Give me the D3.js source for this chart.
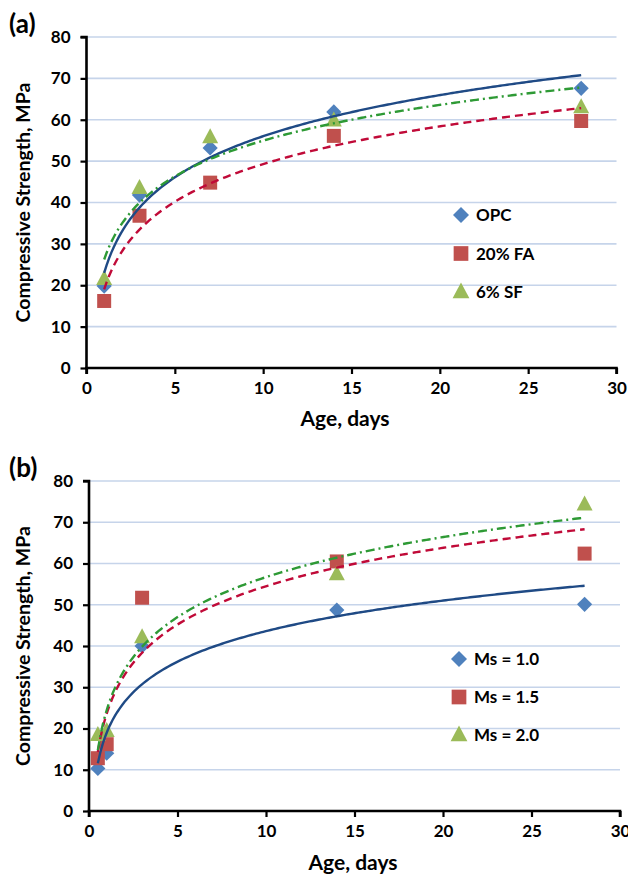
<!DOCTYPE html>
<html>
<head>
<meta charset="utf-8">
<script src="https://cdn.jsdelivr.net/npm/d3@7"></script>
<style>
  body { margin: 0; background: #fff; }
  svg { display: block; font-family: Lato, "Open Sans", sans-serif; font-weight: bold; }
</style>
</head>
<body>
<svg id="canvas" width="628" height="876"></svg>
<script>
// panel (a): cement type
var agesA = [1, 3, 7, 14, 28];
var namesA = ["OPC", "20% FA", "6% SF"];
var opc = [19.8, 41.8, 53.2, 61.9, 67.6];
var fa20 = [16.2, 36.8, 44.8, 56.1, 59.7];
var sf6 = [21.5, 43.5, 55.8, 59.8, 63.0];

// panel (b): silica modulus
var agesB = [0.5, 1, 3, 14, 28];
var namesB = ["Ms = 1.0", "Ms = 1.5", "Ms = 2.0"];
var ms10 = [10.3, 14.0, 40.0, 48.7, 50.1];
var ms15 = [12.8, 16.2, 51.7, 60.5, 62.4];
var ms20 = [18.4, 19.4, 42.1, 57.4, 74.3];

var xTicks = [0, 5, 10, 15, 20, 25, 30];
var yTicks = [0, 10, 20, 30, 40, 50, 60, 70, 80];

var markerColors = ["#4f81bd", "#c0504d", "#9bbb59"];
var lineColors = ["#1f4a85", "#c00a38", "#2e9a35"];
var lineDash = [null, "8,5", "9,4,2,4"];

const svg = d3.select('svg#canvas');

// excel style markers: diamond, square, triangle
function markerPath(i, k) {
	k = k || 1;
	if (i == 0) {
		const r = 7.6 * k;
		return 'M0,' + (-r) + 'L' + r + ',0L0,' + r + 'L' + (-r) + ',0Z';
	}
	if (i == 1) {
		const h = 7 * k;
		return 'M' + (-h) + ',' + (-h) + 'H' + h + 'V' + h + 'H' + (-h) + 'Z';
	}
	const w = 8 * k, t = 9 * k, b = 6 * k;
	return 'M0,' + (-t) + 'L' + w + ',' + b + 'H' + (-w) + 'Z';
}

// logarithmic trendline, y = a + b ln(x), least squares like Excel
function logFit(xs, ys) {
	const lx = xs.map(Math.log),
		mx = d3.mean(lx),
		my = d3.mean(ys);
	let sxy = 0, sxx = 0;
	for (let i = 0; i < xs.length; i++) {
		sxy += (lx[i] - mx) * (ys[i] - my);
		sxx += (lx[i] - mx) * (lx[i] - mx);
	}
	const b = sxy / sxx;
	return {a: my - b * mx, b: b};
}

function drawPanel(p) {
	const g = svg.append('g');
	const x = d3.scaleLinear().domain([0, 30]).range([p.left, p.right]);
	const y = d3.scaleLinear().domain([0, 80]).range([p.bottom, p.top]);

	// gridlines
	g.selectAll('line.grid').data(yTicks.slice(1)).enter().append('line')
		.attr('x1', p.left).attr('x2', p.right)
		.attr('y1', d => y(d)).attr('y2', d => y(d))
		.attr('stroke', '#c6d4ea').attr('stroke-width', 1.6);

	// axes
	const xAxis = g.append('g').attr('transform', 'translate(0,' + p.bottom + ')')
		.call(d3.axisBottom(x).tickValues(xTicks).tickSize(6).tickPadding(8));
	const yAxis = g.append('g').attr('transform', 'translate(' + p.left + ',0)')
		.call(d3.axisLeft(y).tickValues(yTicks).tickSize(6).tickPadding(10));
	[xAxis, yAxis].forEach(a => {
		a.select('.domain').attr('stroke', '#000').attr('stroke-width', 2.6);
		a.selectAll('.tick line').attr('stroke', '#000').attr('stroke-width', 2.2);
		a.selectAll('.tick text').attr('fill', '#000')
			.style('font-size', '17px').style('font-family', 'Lato, sans-serif').style('font-weight', 'bold');
	});
	xAxis.select('.domain').attr('d', 'M' + p.left + ',6V0H' + p.right + 'V6');
	yAxis.select('.domain').attr('d', 'M-6,' + p.top + 'H0V' + p.bottom);

	// markers
	p.series.forEach((s, i) => {
		g.selectAll(null).data(p.ages.map((a, k) => [a, s[k]])).enter().append('path')
			.attr('d', markerPath(i))
			.attr('transform', d => 'translate(' + x(d[0]) + ',' + y(d[1]) + ')')
			.attr('fill', markerColors[i]);
	});

	// trendlines
	const line = d3.line().x(d => x(d[0])).y(d => y(d[1]));
	p.series.forEach((s, i) => {
		const fit = logFit(p.ages, s);
		const lo = d3.min(p.ages), hi = d3.max(p.ages);
		const pts = d3.range(lo, hi + 0.001, (hi - lo) / 200).map(v => [v, fit.a + fit.b * Math.log(v)]);
		g.append('path').datum(pts).attr('d', line)
			.attr('fill', 'none').attr('stroke', lineColors[i]).attr('stroke-width', 2.4)
			.attr('stroke-dasharray', lineDash[i]);
	});

	// legend
	p.names.forEach((n, i) => {
		const ly = p.legendY + i * p.legendGap;
		g.append('path')
			.attr('d', markerPath(i, 1.05))
			.attr('transform', 'translate(' + p.legendX + ',' + ly + ')')
			.attr('fill', markerColors[i]);
		g.append('text').attr('x', p.legendX + 15).attr('y', ly + 6)
			.style('font-size', '17px').text(n);
	});

	// titles
	g.append('text').attr('x', p.titleX).attr('y', p.bottom + p.titleDy)
		.attr('text-anchor', 'middle').style('font-size', '21px').text('Age, days');
	g.append('text')
		.attr('transform', 'translate(' + 30 + ',' + (p.top + p.bottom) / 2 + ') rotate(-90)')
		.attr('text-anchor', 'middle').style('font-size', '19.5px').text('Compressive Strength, MPa');
	g.append('text').attr('x', 9).attr('y', p.top - 4)
		.style('font-size', '26px').text(p.label);
}

drawPanel({
	label: '(a)', ages: agesA, series: [opc, fa20, sf6], names: namesA,
	left: 86.5, right: 616.5, top: 37, bottom: 368,
	titleX: 345, titleDy: 58,
	legendX: 461, legendY: 215, legendGap: 38.5
});
drawPanel({
	label: '(b)', ages: agesB, series: [ms10, ms15, ms20], names: namesB,
	left: 89, right: 620, top: 481, bottom: 811,
	titleX: 353, titleDy: 59,
	legendX: 459, legendY: 659, legendGap: 38
});
</script>
</body>
</html>
